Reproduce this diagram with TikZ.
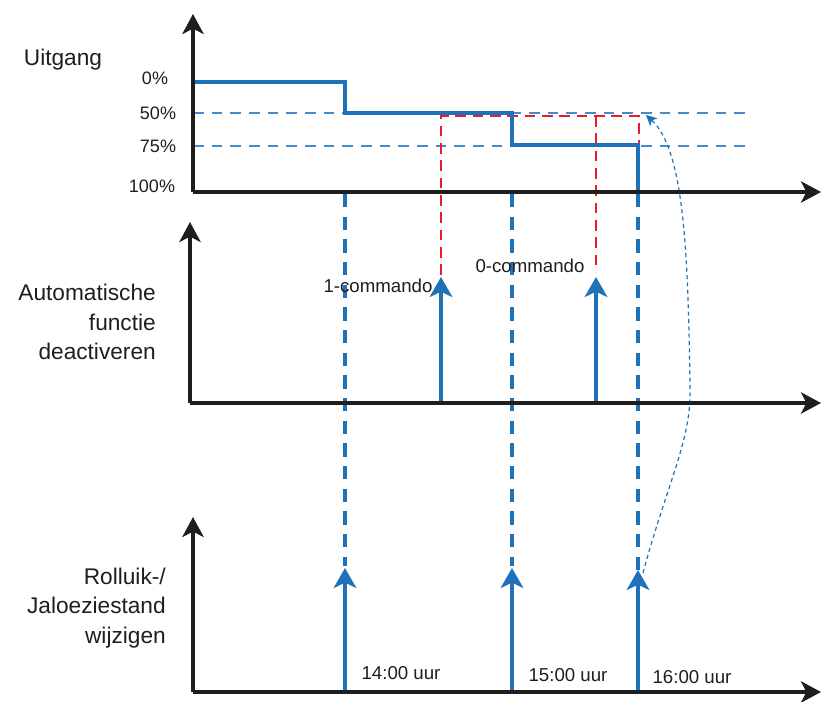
\documentclass[tikz,border=0pt]{standalone}
\usepackage{fontspec}
\setmainfont{Liberation Sans}
\usetikzlibrary{arrows.meta}
\definecolor{lblue}{RGB}{31,113,185}
\definecolor{llblue}{RGB}{70,140,205}
\definecolor{lred}{RGB}{232,28,44}
\definecolor{ink}{RGB}{30,30,30}
\begin{document}
\begin{tikzpicture}[x=0.75pt,y=-0.75pt,
  axis/.style={line width=2.3pt, draw=ink, -{Stealth[length=15pt,width=16pt,inset=4pt]}},
  sig/.style={line width=2.3pt, draw=lblue},
  evarrow/.style={line width=2.3pt, draw=lblue, -{Stealth[length=15pt,width=17pt,inset=4pt]}},
  guide/.style={line width=2.3pt, draw=lblue, dash pattern=on 10pt off 7pt},
  level/.style={line width=1.3pt, draw=llblue, dash pattern=on 8pt off 6pt},
  redline/.style={line width=2.1pt, draw=lred, dash pattern=on 8pt off 5pt},
  link/.style={line width=0.9pt, draw=lblue, dash pattern=on 3pt off 2.5pt, -{Stealth[length=8pt,width=8pt,inset=2pt]}},
  big/.style={font=\fontsize{17}{22}\selectfont, text=ink, inner sep=0pt},
  small/.style={font=\fontsize{13.5}{16}\selectfont, text=ink, inner sep=0pt},
  mid/.style={font=\fontsize{14}{17}\selectfont, text=ink, inner sep=0pt}
]
\useasboundingbox (0,0) rectangle (821,702);

% key coordinates
\coordinate (o1) at (193,192);
\coordinate (y1) at (193,14);
\coordinate (x1) at (821,192);
\coordinate (o2) at (190,403);
\coordinate (y2) at (190,222);
\coordinate (x2) at (821,403);
\coordinate (o3) at (193,692);
\coordinate (y3) at (193,517);
\coordinate (x3) at (821,692);

\coordinate (l50a) at (193,113);
\coordinate (l50b) at (750,113);
\coordinate (l75a) at (193,146);
\coordinate (l75b) at (750,146);

% level dashed lines
\draw[level] (l50a) -- (l50b);
\draw[level] (l75a) -- (l75b);

% red dashed path
\coordinate (r1) at (441,275);
\coordinate (r2) at (441,116);
\coordinate (r3) at (639,116);
\coordinate (r4) at (639,146);
\coordinate (r5) at (596,116);
\coordinate (r6) at (596,272);
\draw[redline] (r1) -- (r2) -- (r3) -- (r4);
\draw[redline] (r5) -- (r6);

% output step signal
\coordinate (s0) at (193,82);
\coordinate (s1) at (345,82);
\coordinate (s2) at (345,113);
\coordinate (s3) at (512,113);
\coordinate (s4) at (512,145);
\coordinate (s5) at (638,145);
\coordinate (s6) at (638,192);
\draw[sig] (s0) -- (s1) -- (s2) -- (s3) -- (s4) -- (s5) -- (s6);

% blue dashed guides
\coordinate (g1t) at (345,194);
\coordinate (g1b) at (345,566);
\coordinate (g2t) at (512,194);
\coordinate (g2b) at (512,566);
\coordinate (g3t) at (638,194);
\coordinate (g3b) at (638,570);
\draw[guide] (g1t) -- (g1b);
\draw[guide] (g2t) -- (g2b);
\draw[guide] (g3t) -- (g3b);

% middle event arrows
\coordinate (m1b) at (441,403);
\coordinate (m1t) at (441,277);
\coordinate (m2b) at (596,403);
\coordinate (m2t) at (596,277);
\draw[evarrow] (m1b) -- (m1t);
\draw[evarrow] (m2b) -- (m2t);

% bottom event arrows
\coordinate (b1b) at (345,692);
\coordinate (b1t) at (345,568);
\coordinate (b2b) at (512,692);
\coordinate (b2t) at (512,568);
\coordinate (b3b) at (638,692);
\coordinate (b3t) at (638,570);
\draw[evarrow] (b1b) -- (b1t);
\draw[evarrow] (b2b) -- (b2t);
\draw[evarrow] (b3b) -- (b3t);

% curved dashed link
\coordinate (c0) at (643,573);
\coordinate (cm) at (690,385);
\coordinate (c1) at (646,115);
\draw[link] (c0) .. controls (668,480) and (692,440) .. (cm)
  .. controls (688,250) and (684,150) .. (c1);

% axes
\draw[axis] (o1) -- (y1);
\draw[axis] (o1) -- (x1);
\draw[axis] (o2) -- (y2);
\draw[axis] (o2) -- (x2);
\draw[axis] (o3) -- (y3);
\draw[axis] (o3) -- (x3);

% labels
\node[big] (uit) at (63,60) {Uitgang};
\node[small] (p0) at (155,78) {0\%};
\node[small] (p50) at (158,113) {50\%};
\node[small] (p75) at (158,146) {75\%};
\node[small] (p100) at (152,186) {100\%};
\node[big, align=right, anchor=east] (auto) at (156,322) {Automatische\\functie\\deactiveren};
\node[big, align=right, anchor=east] (roll) at (166,608) {Rolluik-/\\Jaloeziestand\\wijzigen};
\node[mid] (c1lab) at (378,286) {1-commando};
\node[mid] (c0lab) at (530,266) {0-commando};
\node[mid] (t14) at (401,673) {14:00 uur};
\node[mid] (t15) at (568,675) {15:00 uur};
\node[mid] (t16) at (692,677) {16:00 uur};
\end{tikzpicture}
\end{document}
